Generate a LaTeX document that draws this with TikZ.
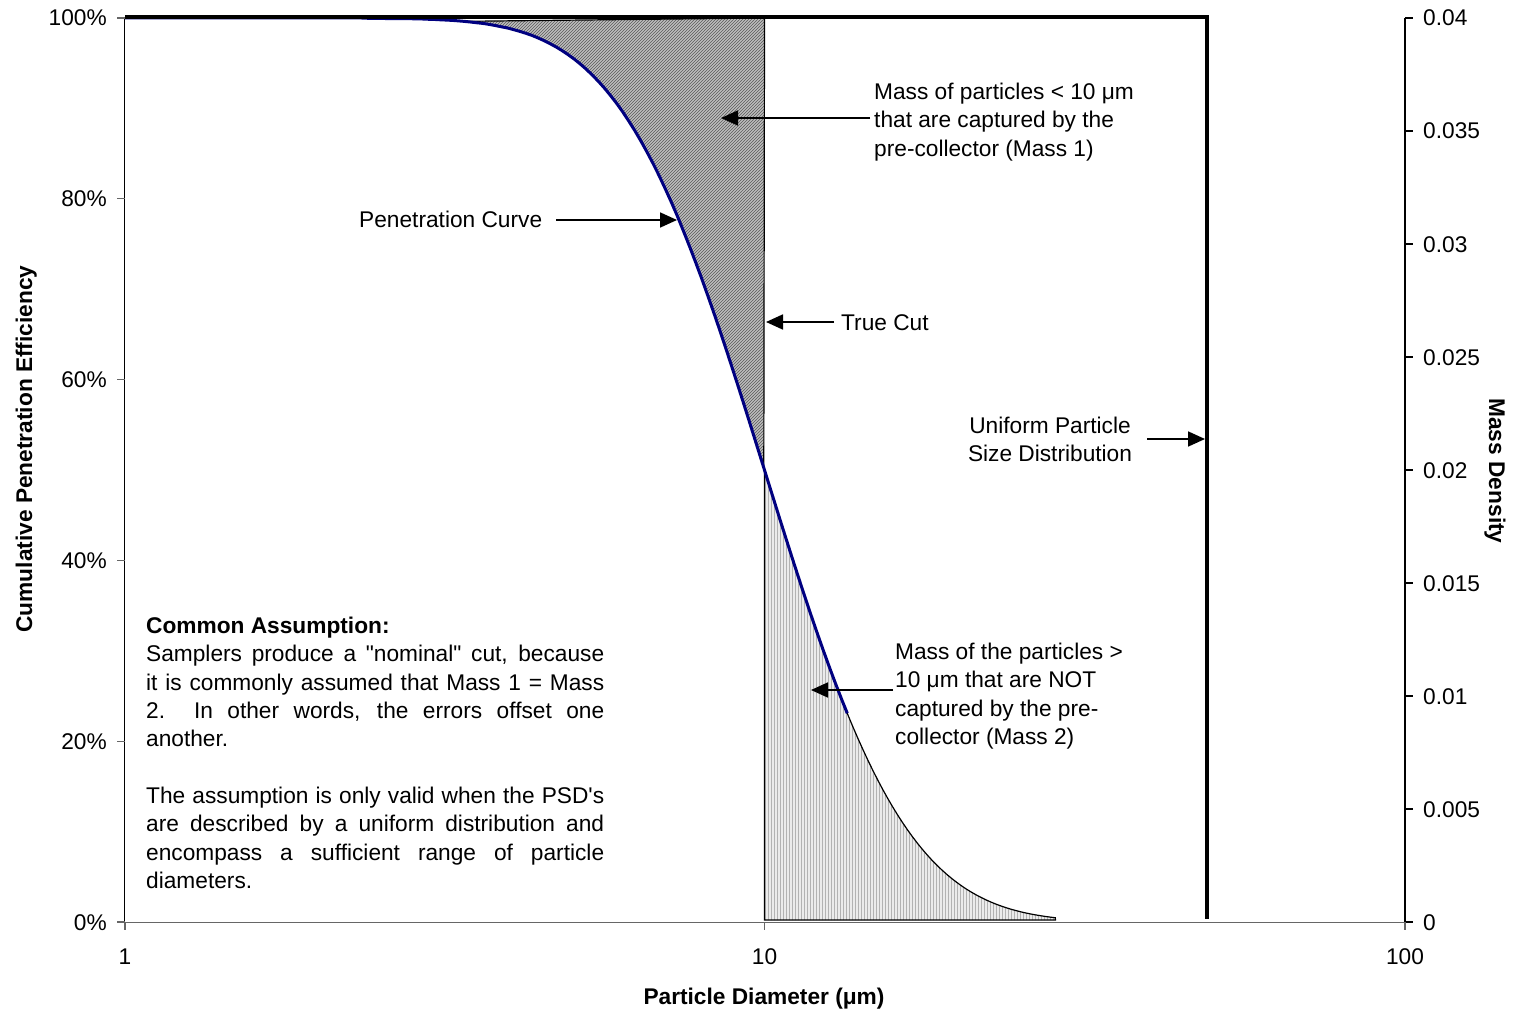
\documentclass[tikz,border=0pt]{standalone}
\usepackage{fontspec}
\newfontfamily\arial{Liberation Sans}
\usetikzlibrary{arrows.meta,patterns}
\definecolor{navy}{RGB}{0,0,128}
\begin{document}
\begin{tikzpicture}[x=1pt,y=-1pt,
  declare function={zz(\t)=2.302585*(1-\t)/0.405; pen(\t)=1/(1+exp(-(0.07056*zz(\t)*zz(\t)*zz(\t)+1.5976*zz(\t))));},
  every node/.style={font=\arial\fontsize{22.7}{28.3}\selectfont, inner sep=0pt},
  boldtext/.style={font=\arial\bfseries\fontsize{22.7}{28.3}\selectfont},
  lab/.style={text height=16pt, text depth=0pt},
  arr/.style={line width=1.8pt, -{Triangle[length=17pt,width=15pt]}},
  axisgray/.style={draw=black!60, line width=1.3pt},
  region one/.style={preaction={fill=black!25}, pattern=north east lines, pattern color=black!65, draw=black, line width=1.2pt},
  region two/.style={preaction={fill=black!8}, pattern=vertical lines, pattern color=black!30, draw=black, line width=1.2pt}]
\fill[white] (0,0) rectangle (1518,1011);
\useasboundingbox (0,0) rectangle (1518,1011);

% shaded regions
\path[region one] plot[domain=0.53:1,samples=80] ({125+639.5*\x},{922-904*pen(\x)}) -- (764.5,18) -- cycle;
\path[region two] (764.5,470) -- plot[domain=1:1.455,samples=60] ({125+639.5*\x},{922-904*pen(\x)}) -- (1055.5,920) -- (764.5,920) -- cycle;

% penetration curve
\draw[navy, line width=3pt] plot[domain=0:1.13,samples=120] ({125+639.5*\x},{922-904*pen(\x)});

% uniform distribution
\draw[line width=4pt, miter limit=10] (125,17.5) -- (1207,17.5) -- (1207,919);

% axes
\draw[black, line width=1.2pt] (124.5,18) -- (124.5,922);
\draw[axisgray] (124.5,922.5) -- (1405,922.5);
\draw[black, line width=1.2pt] (1405,18) -- (1405,922);
\foreach \v in {0,20,40,60,80,100}{
  \draw[axisgray] (117,{922-9.04*\v}) -- (124.5,{922-9.04*\v});
  \node[lab, anchor=east] (yl\v) at (107,{922-9.04*\v}) {\v\%};
}
\foreach \v/\t in {0/0,1/0.005,2/0.01,3/0.015,4/0.02,5/0.025,6/0.03,7/0.035,8/0.04}{
  \draw[black, line width=1.2pt] (1405,{922-113*\v}) -- (1413,{922-113*\v});
  \node[lab, anchor=west] (yr\v) at (1423,{922-113*\v}) {\t};
}
\foreach \xx/\t in {125/1,764.5/10,1405/100}{
  \draw[axisgray] (\xx,922) -- (\xx,930);
  \node[lab] (xl\t) at (\xx,956) {\t};
}

% axis titles
\node[lab, boldtext] (xtitle) at (764,996) {Particle Diameter (μm)};
\node[lab, boldtext, rotate=90] (ytitle) at (24,449) {Cumulative Penetration Efficiency};
\node[lab, boldtext, rotate=-90] (y2title) at (1497,471) {Mass Density};

% annotations
\node[anchor=north west, align=left] (mass1) at (874,83) {Mass of particles < 10 μm\\that are captured by the\\pre-collector (Mass 1)};
\coordinate (m1s) at (870,118);
\coordinate (m1t) at (721,118);
\draw[arr] (m1s) -- (m1t);

\node[lab, anchor=west] (pclab) at (359,220) {Penetration Curve};
\coordinate (pcs) at (556,220);
\coordinate (pct) at (677,220);
\draw[arr] (pcs) -- (pct);

\node[lab, anchor=west] (tclab) at (841,322) {True Cut};
\coordinate (tcs) at (834,322);
\coordinate (tct) at (766,322);
\draw[arr] (tcs) -- (tct);

\node[anchor=north, align=center] (udlab) at (1050,417) {Uniform Particle\\Size Distribution};
\coordinate (uds) at (1147,439);
\coordinate (udt) at (1205,439);
\draw[arr] (uds) -- (udt);

\node[anchor=north west, align=left] (mass2) at (895,643) {Mass of the particles >\\10 μm that are NOT\\captured by the pre-\\collector (Mass 2)};
\coordinate (m2s) at (893,690);
\coordinate (m2t) at (811,690);
\draw[arr] (m2s) -- (m2t);

\node[anchor=north west, align=left] (ca) at (146,617) {{\bfseries Common Assumption:}\\
\makebox[458pt][s]{Samplers produce a "nominal" cut, because}\\
\makebox[458pt][s]{it is commonly assumed that Mass 1 = Mass}\\
\makebox[458pt][s]{2.\ \ In other words, the errors offset one}\\
another.\\[28.3pt]
\makebox[458pt][s]{The assumption is only valid when the PSD's}\\
\makebox[458pt][s]{are described by a uniform distribution and}\\
\makebox[458pt][s]{encompass a sufficient range of particle}\\
diameters.};
\end{tikzpicture}
\end{document}
